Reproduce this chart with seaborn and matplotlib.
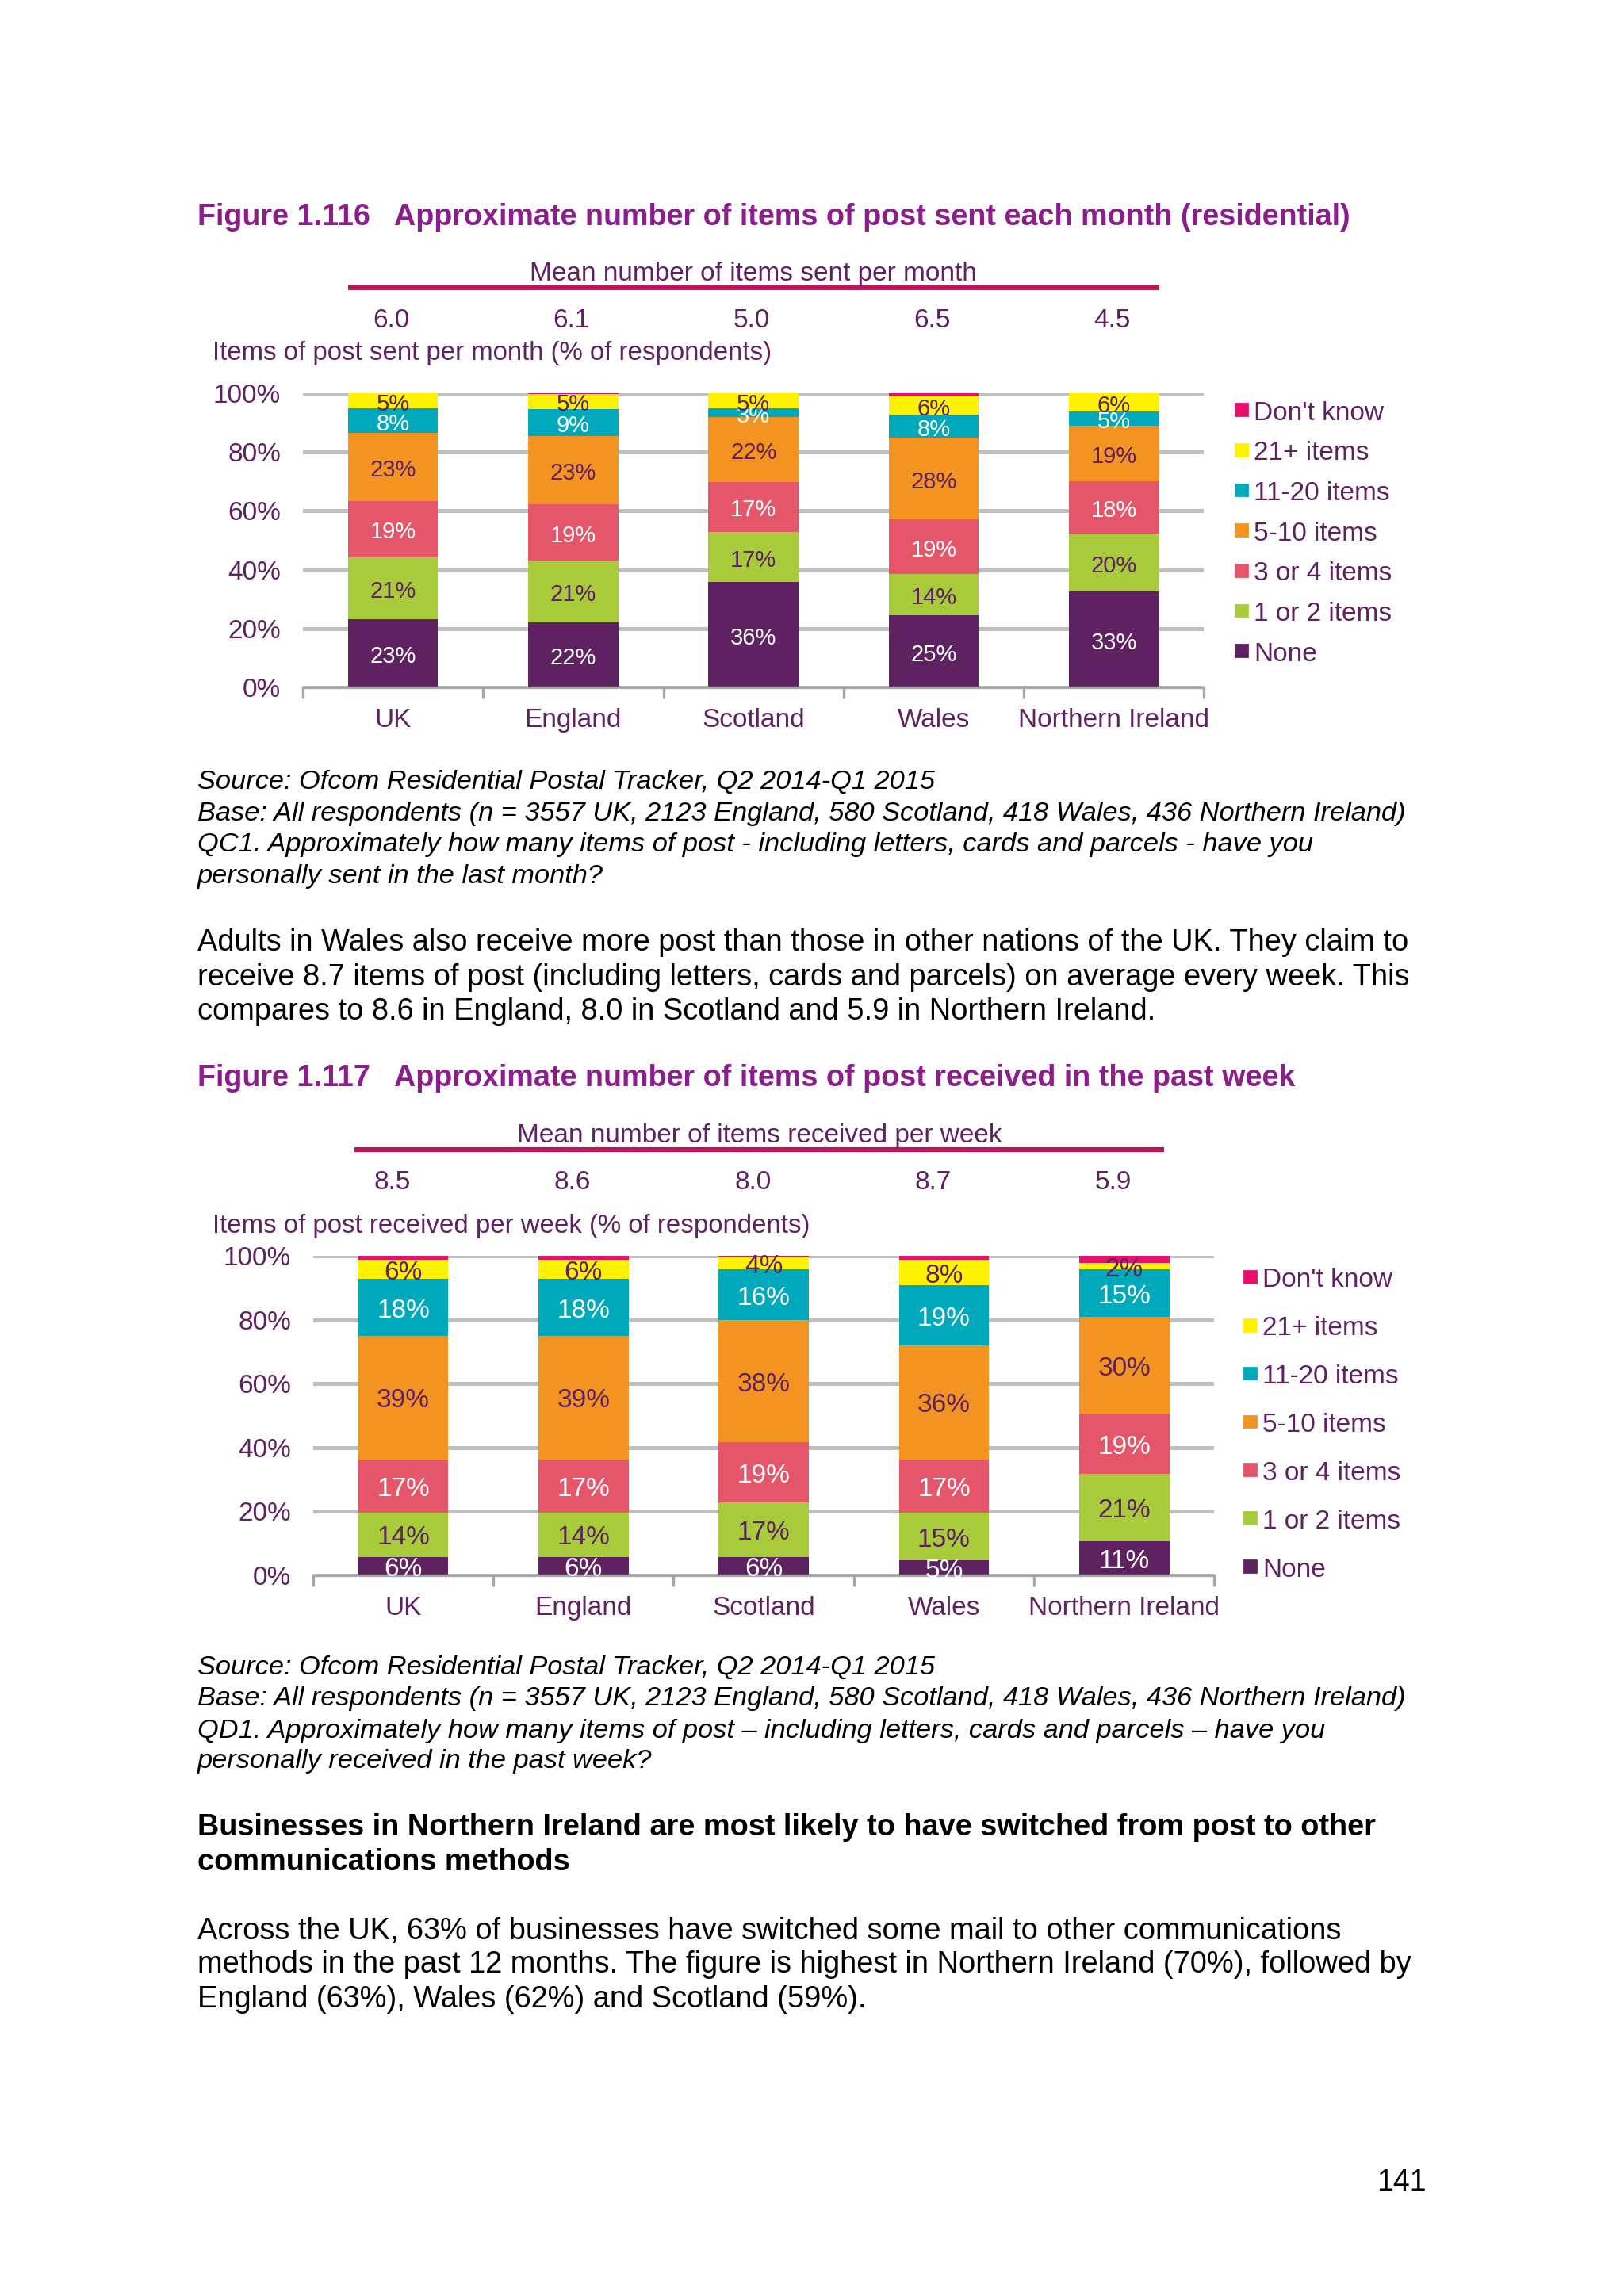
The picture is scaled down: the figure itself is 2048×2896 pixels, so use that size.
import matplotlib
matplotlib.use("Agg")
import matplotlib.pyplot as plt
import matplotlib.transforms as mtransforms
from matplotlib.patches import Rectangle
import numpy as np
import seaborn as sns

# ---- data ----
categories = ["UK", "England", "Scotland", "Wales", "Northern Ireland"]
layer_names = ["None", "1 or 2 items", "3 or 4 items", "5-10 items",
               "11-20 items", "21+ items", "Don't know"]

# Figure 1.116 - items sent per month (% of respondents)
sent_none = [23.1, 22.0, 35.8, 24.6, 32.6]
sent_1_2 = [21.2, 21.2, 17.1, 13.9, 19.8]
sent_3_4 = [19.2, 19.1, 17.0, 18.7, 17.8]
sent_5_10 = [23.2, 23.3, 22.0, 27.7, 18.8]
sent_11_20 = [8.1, 9.1, 2.9, 8.0, 4.9]
sent_21_plus = [5.2, 5.2, 5.2, 6.0, 6.1]
sent_dont_know = [0.0, 0.1, 0.0, 1.1, 0.0]
sent_means = [6.0, 6.1, 5.0, 6.5, 4.5]

# Figure 1.117 - items received per week (% of respondents)
recv_none = [5.7, 5.7, 5.7, 4.6, 10.6]
recv_1_2 = [13.9, 13.9, 17.0, 15.0, 21.2]
recv_3_4 = [16.7, 16.7, 18.9, 16.7, 18.8]
recv_5_10 = [38.8, 38.8, 38.3, 35.8, 30.3]
recv_11_20 = [17.7, 17.7, 15.9, 18.7, 15.0]
recv_21_plus = [6.1, 6.1, 4.1, 8.1, 2.0]
recv_dont_know = [1.1, 1.1, 0.1, 1.1, 2.1]
recv_means = [8.5, 8.6, 8.0, 8.7, 5.9]

layer_colors = ["#5E2261", "#A8CB3B", "#E5566B", "#F39322",
                "#00A8BC", "#FFF200", "#E8106C"]
label_colors = ["white", "#5E2261", "white", "#5E2261",
                "white", "#5E2261", None]

PURPLE = "#8C1D8C"
TEXT = "#5E2261"
RED_LINE = "#C0145A"
GRID = "#BFBFBF"

sns.set_theme(style="white")
plt.rcParams["font.family"] = ["Liberation Sans", "DejaVu Sans"]

fig = plt.figure(figsize=(10.24, 14.48), dpi=200)
fig.patch.set_facecolor("white")

W, H = 1110.0, 1570.0
DY = 2.5  # text centre correction


def fx(x):
    return x / W


def fy(y):
    return 1 - y / H


def put(x, y, s, **kw):
    kw.setdefault("va", "center")
    kw.setdefault("ha", "left")
    fig.text(fx(x), fy(y + DY), s, **kw)


def stacked_chart(rect, layers, means, subtitle, label_size,
                  mean_y, line_y, sub_y, line_span, mean_shift,
                  legend_x, legend_y0, legend_step):
    left, top, right, bottom = rect
    ax = fig.add_axes([fx(left), fy(bottom), fx(right) - fx(left),
                       (bottom - top) / H])
    tops = np.cumsum(np.array(layers), axis=0)
    for i in reversed(range(len(layers))):
        sns.barplot(x=categories, y=tops[i], color=layer_colors[i],
                    width=0.5, saturation=1, errorbar=None,
                    linewidth=0, ax=ax, zorder=3)
    # value labels
    for i, vals in enumerate(layers):
        if label_colors[i] is None:
            continue
        for j, v in enumerate(vals):
            base = tops[i][j] - v
            ax.annotate(f"{v:.0f}%", (j, base + v / 2), xytext=(0, -1.5),
                        textcoords="offset points", ha="center",
                        va="center", color=label_colors[i],
                        fontsize=label_size, zorder=5)

    ax.set_xlim(-0.5, 4.5)
    ax.set_ylim(0, 100)
    ax.set_yticks(range(0, 101, 20))
    ax.set_yticklabels([f"{t}%" for t in range(0, 101, 20)])
    ax.set_xlabel("")
    ax.set_ylabel("")
    ax.yaxis.grid(True, color=GRID, lw=1.8, zorder=0)
    ax.xaxis.grid(False)
    ax.set_axisbelow(True)
    for s in ["left", "right", "top"]:
        ax.spines[s].set_visible(False)
    ax.spines["bottom"].set_color("#A6A6A6")
    ax.spines["bottom"].set_linewidth(1.2)
    ax.spines["bottom"].set_zorder(4)
    ax.tick_params(axis="y", length=0, labelsize=12, labelcolor=TEXT, pad=10)
    ax.tick_params(axis="x", which="major", length=0, labelsize=12,
                   labelcolor=TEXT, pad=9.5)
    ax.set_xticks(np.arange(-0.5, 5, 1), minor=True)
    ax.tick_params(axis="x", which="minor", length=5, width=1.2,
                   color="#A6A6A6", bottom=True)

    # mean row above the plot
    trans = mtransforms.blended_transform_factory(ax.transData, ax.transAxes)
    h = bottom - top
    ay = lambda y: (bottom - y) / h
    for j, m in enumerate(means):
        ax.text(j + mean_shift, ay(mean_y + DY), f"{m:.1f}", transform=trans,
                ha="center", va="center", color=TEXT, fontsize=12,
                clip_on=False)
    ax.plot(line_span, [ay(line_y)] * 2, transform=trans, color=RED_LINE,
            lw=2.2, clip_on=False, solid_capstyle="butt")
    ax.text(sum(line_span) / 2, ay(sub_y + DY), subtitle, transform=trans,
            ha="center", va="center", color=TEXT, fontsize=12, clip_on=False)

    # legend, top entry first
    for k, i in enumerate(reversed(range(len(layer_names)))):
        y = legend_y0 + k * legend_step
        fig.patches.append(Rectangle((fx(legend_x + 1.5), fy(y + 4)), fx(8),
                                     8 / H, transform=fig.transFigure,
                                     color=layer_colors[i]))
        put(legend_x + 14, y, layer_names[i], color=TEXT, fontsize=12)
    return ax


# ---- page text ----
put(135, 146, "Figure 1.116   Approximate number of items of post sent each month (residential)",
    color=PURPLE, fontsize=13.6, fontweight="bold")
put(145, 239, "Items of post sent per month (% of respondents)", color=TEXT,
    fontsize=11.9)

stacked_chart((207, 269, 823, 470),
              [sent_none, sent_1_2, sent_3_4, sent_5_10, sent_11_20,
               sent_21_plus, sent_dont_know],
              sent_means, "Mean number of items sent per month", 10.5,
              mean_y=217, line_y=197, sub_y=185, line_span=(-0.25, 4.25),
              mean_shift=-0.01, legend_x=843, legend_y0=280, legend_step=27.5)

source1 = [
    "Source: Ofcom Residential Postal Tracker, Q2 2014-Q1 2015",
    "Base: All respondents (n = 3557 UK, 2123 England, 580 Scotland, 418 Wales, 436 Northern Ireland)",
    "QC1. Approximately how many items of post - including letters, cards and parcels - have you",
    "personally sent in the last month?",
]
for y, line in zip([532, 554, 575, 597], source1):
    put(135, y, line, color="black", fontsize=12.4, style="italic")

para1 = [
    "Adults in Wales also receive more post than those in other nations of the UK. They claim to",
    "receive 8.7 items of post (including letters, cards and parcels) on average every week. This",
    "compares to 8.6 in England, 8.0 in Scotland and 5.9 in Northern Ireland.",
]
for y, line in zip([642, 666, 689], para1):
    put(135, y, line, color="black", fontsize=13.7)

put(135, 735, "Figure 1.117   Approximate number of items of post received in the past week",
    color=PURPLE, fontsize=13.6, fontweight="bold")
put(145, 836, "Items of post received per week (% of respondents)", color=TEXT,
    fontsize=11.9)

stacked_chart((214, 859, 830, 1077),
              [recv_none, recv_1_2, recv_3_4, recv_5_10, recv_11_20,
               recv_21_plus, recv_dont_know],
              recv_means, "Mean number of items received per week", 12,
              mean_y=806, line_y=786, sub_y=774, line_span=(-0.27, 4.22),
              mean_shift=-0.06, legend_x=849, legend_y0=873, legend_step=33)

source2 = [
    "Source: Ofcom Residential Postal Tracker, Q2 2014-Q1 2015",
    "Base: All respondents (n = 3557 UK, 2123 England, 580 Scotland, 418 Wales, 436 Northern Ireland)",
    "QD1. Approximately how many items of post \u2013 including letters, cards and parcels \u2013 have you",
    "personally received in the past week?",
]
for y, line in zip([1138, 1159, 1181, 1202], source2):
    put(135, y, line, color="black", fontsize=12.4, style="italic")

heading = [
    "Businesses in Northern Ireland are most likely to have switched from post to other",
    "communications methods",
]
for y, line in zip([1247, 1271], heading):
    put(135, y, line, color="black", fontsize=13.65, fontweight="bold")

para2 = [
    "Across the UK, 63% of businesses have switched some mail to other communications",
    "methods in the past 12 months. The figure is highest in Northern Ireland (70%), followed by",
    "England (63%), Wales (62%) and Scotland (59%).",
]
for y, line in zip([1318, 1341, 1365], para2):
    put(135, y, line, color="black", fontsize=13.7)

put(958, 1490, "141", color="black", fontsize=13.5, ha="center")

fig.savefig("out.png", dpi=200, facecolor="white")
